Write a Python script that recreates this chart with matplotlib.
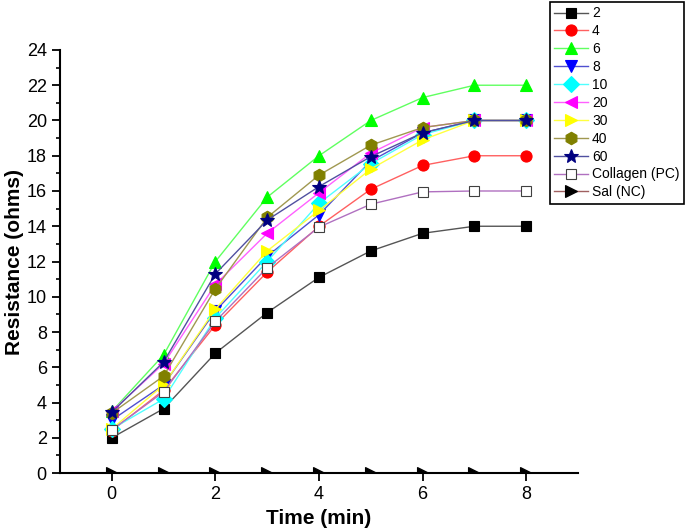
#!/usr/bin/env python3

import numpy as np
import matplotlib.pyplot as plt
from matplotlib.ticker import MultipleLocator

plt.rcParams['font.family'] = ['Liberation Sans', 'DejaVu Sans']

time = [0, 1, 2, 3, 4, 5, 6, 7, 8]

r2 = [2.0, 3.65, 6.8, 9.1, 11.1, 12.6, 13.6, 14.0, 14.0]
r4 = [2.4, 4.7, 8.4, 11.4, 14.0, 16.1, 17.45, 18.0, 18.0]
r6 = [3.5, 6.7, 12.0, 15.65, 18.0, 20.0, 21.3, 22.0, 22.0]
r8 = [3.0, 5.0, 9.2, 12.3, 14.65, 17.7, 19.3, 20.0, 20.0]
r10 = [2.5, 4.2, 8.8, 12.0, 15.3, 17.55, 19.2, 20.0, 20.0]
r20 = [3.5, 6.2, 10.7, 13.6, 15.9, 18.15, 19.6, 20.0, 20.0]
r30 = [2.5, 5.0, 9.3, 12.6, 14.9, 17.25, 18.9, 20.0, 20.0]
r40 = [3.4, 5.5, 10.45, 14.5, 16.9, 18.6, 19.6, 20.0, 20.0]
r60 = [3.45, 6.3, 11.3, 14.35, 16.25, 17.95, 19.3, 20.0, 20.0]
collagen = [2.45, 4.6, 8.6, 11.65, 13.95, 15.25, 15.95, 16.0, 16.0]
sal = [0, 0, 0, 0, 0, 0, 0, 0, 0]

labels = ['2', '4', '6', '8', '10', '20', '30', '40', '60',
          'Collagen (PC)', 'Sal (NC)']
series = [r2, r4, r6, r8, r10, r20, r30, r40, r60, collagen, sal]
markers = ['s', 'o', '^', 'v', 'D', '<', '>', 'h', '*', 's', '>']
mcolors = ['#000000', '#ff0000', '#00ff00', '#0000ff', '#00ffff', '#ff00ff',
           '#ffff00', '#808000', '#000080', 'white', '#000000']
lcolors = ['#555555', '#ff6060', '#60ff60', '#5050d0', '#50ffff', '#ff60ff',
           '#ffff40', '#a09850', '#5050a0', '#b070c0', '#a06060']
msizes = [7, 8, 9, 8, 8, 9, 9, 9, 10, 7, 9]

fig = plt.figure(figsize=(6.85, 5.3), dpi=100)
ax = fig.add_axes([0.0876, 0.1075, 0.7562, 0.7982])

for y, lab, m, mc, lc, ms in zip(series, labels, markers, mcolors, lcolors, msizes):
    mec = '#404040' if lab == 'Collagen (PC)' else mc
    ax.plot(time, y, color=lc, lw=1, marker=m, markersize=ms,
            markerfacecolor=mc, markeredgecolor=mec, markeredgewidth=0.8,
            label=lab)

ax.set_xlim(-1, 9)
ax.set_ylim(0, 24)
ax.xaxis.set_major_locator(MultipleLocator(2))
ax.yaxis.set_major_locator(MultipleLocator(2))
ax.yaxis.set_minor_locator(MultipleLocator(1))
ax.spines['top'].set_visible(False)
ax.spines['right'].set_visible(False)
ax.spines['left'].set_linewidth(1.5)
ax.spines['bottom'].set_linewidth(1.5)
ax.tick_params(which='major', direction='out', length=6, width=1.3, labelsize=13)
ax.tick_params(which='minor', direction='out', length=3, width=1.2)

ax.set_xlabel('Time (min)', fontsize=15, fontweight='bold', labelpad=4)
ax.set_ylabel('Resistance (ohms)', fontsize=15, fontweight='bold', labelpad=2)

leg = ax.legend(loc='upper right', bbox_to_anchor=(0.999, 0.997),
                bbox_transform=fig.transFigure, borderaxespad=0,
                fontsize=10, labelspacing=0.28, handlelength=2.4,
                handletextpad=0.3, borderpad=0.35, fancybox=False,
                framealpha=1)
leg.get_frame().set_edgecolor('black')
leg.get_frame().set_linewidth(1.2)

plt.savefig('out.png', dpi=100)
